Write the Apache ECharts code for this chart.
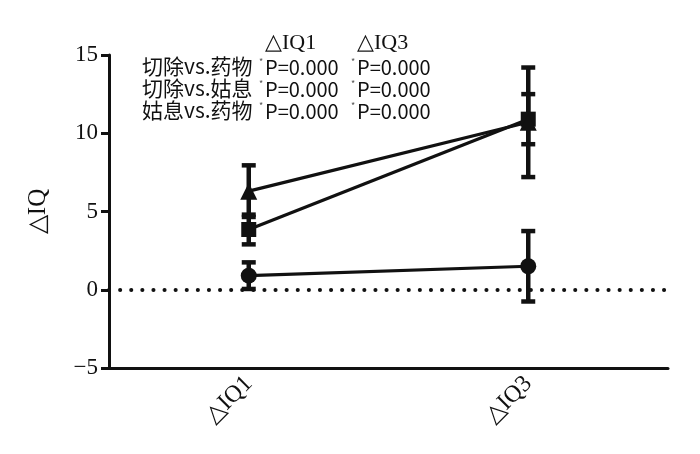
<!DOCTYPE html>
<html><head><meta charset="utf-8">
<script src="https://cdn.jsdelivr.net/npm/echarts@6/dist/echarts.min.js"></script>
<style>html,body{margin:0;padding:0;background:#fff}#c{width:700px;height:454px}</style>
</head><body><div id="c"></div>
<script>
const categories = ['△IQ1', '△IQ3'];
const triangleMean = [6.3, 10.7];
const triangleSD = [1.65, 3.5];
const squareMean = [3.85, 10.9];
const squareSD = [0.95, 1.6];
const circleMean = [0.9, 1.5];
const circleSD = [0.85, 2.25];
const yTicks = [-5, 0, 5, 10, 15];
const tableHeader = ['△IQ1', '△IQ3'];
const tableRows = ['切除vs.药物', '切除vs.姑息', '姑息vs.药物'];
const tableValues = [['P=0.000', 'P=0.000'], ['P=0.000', 'P=0.000'], ['P=0.000', 'P=0.000']];

const serif = '"Liberation Serif", "Times New Roman", serif';
const sans = '"Noto Sans CJK SC", "Noto Sans", sans-serif';
const ink = '#111';

function errData(mean, sd) { return mean.map((m, i) => [i, m - sd[i], m + sd[i]]); }
function errSeries(mean, sd) {
  return {
    type: 'custom', z: 3,
    data: errData(mean, sd),
    renderItem: function (params, api) {
      const x = api.value(0);
      const lo = api.coord([x, api.value(1)]);
      const hi = api.coord([x, api.value(2)]);
      const w = 7;
      const st = { stroke: ink, lineWidth: 4.5 };
      return { type: 'group', children: [
        { type: 'line', shape: { x1: lo[0], y1: lo[1], x2: hi[0], y2: hi[1] }, style: st },
        { type: 'line', shape: { x1: lo[0] - w, y1: lo[1], x2: lo[0] + w, y2: lo[1] }, style: st },
        { type: 'line', shape: { x1: hi[0] - w, y1: hi[1], x2: hi[0] + w, y2: hi[1] }, style: st }
      ]};
    }
  };
}
function lineSeries(mean, symbol, size) {
  return { type: 'line', data: mean, symbol: symbol, symbolSize: size, z: 4,
    lineStyle: { color: ink, width: 3.2 }, itemStyle: { color: ink }, animation: false };
}

const graphics = [];
const colX = [265, 357];
tableHeader.forEach((h, j) => graphics.push({ type: 'text', left: colX[j], top: 32,
  style: { text: h, font: '22px ' + serif, fill: ink } }));
tableRows.forEach((r, i) => {
  const y = 56 + i * 22;
  graphics.push({ type: 'text', left: 142, top: y, style: { text: r, font: '21px ' + sans, fill: ink } });
  tableValues[i].forEach((v, j) => {
    graphics.push({ type: 'text', left: colX[j] - 6, top: y + 1, style: { text: '*', font: '9px ' + sans, fill: '#555' } });
    graphics.push({ type: 'text', left: colX[j], top: y + 1, style: { text: v, font: '20px ' + sans, fill: ink } });
  });
});

const chart = echarts.init(document.getElementById('c'));
chart.setOption({
  animation: false,
  grid: { left: 109, right: 32, top: 55, bottom: 86 },
  xAxis: {
    type: 'category', data: categories, boundaryGap: true,
    axisLine: { onZero: false, lineStyle: { color: ink, width: 3 } },
    axisTick: { alignWithLabel: true, length: 7, lineStyle: { color: ink, width: 3 } },
    axisLabel: { rotate: 45, margin: 12, color: ink, fontFamily: serif, fontSize: 24 }
  },
  yAxis: {
    type: 'value', min: -5, max: 15, interval: 5,
    name: '△IQ', nameLocation: 'middle', nameGap: 58,
    nameTextStyle: { fontFamily: serif, fontSize: 25, color: ink },
    axisLine: { show: true, lineStyle: { color: ink, width: 3 } },
    axisTick: { show: true, length: 8, lineStyle: { color: ink, width: 3 } },
    splitLine: { show: false },
    axisLabel: { margin: 11, color: ink, fontFamily: serif, fontSize: 23,
      formatter: v => yTicks.includes(v) ? String(v).replace('-', '−') : '' }
  },
  graphic: graphics,
  series: [
    Object.assign(lineSeries(circleMean, 'circle', 16), {
      markLine: { silent: true, symbol: 'none', label: { show: false },
        lineStyle: { color: ink, width: 4, type: [0.1, 11], cap: 'round' },
        data: [{ yAxis: 0 }] } }),
    lineSeries(squareMean, 'rect', 15),
    lineSeries(triangleMean, 'triangle', 17),
    errSeries(circleMean, circleSD),
    errSeries(squareMean, squareSD),
    errSeries(triangleMean, triangleSD)
  ]
});
</script></body></html>
